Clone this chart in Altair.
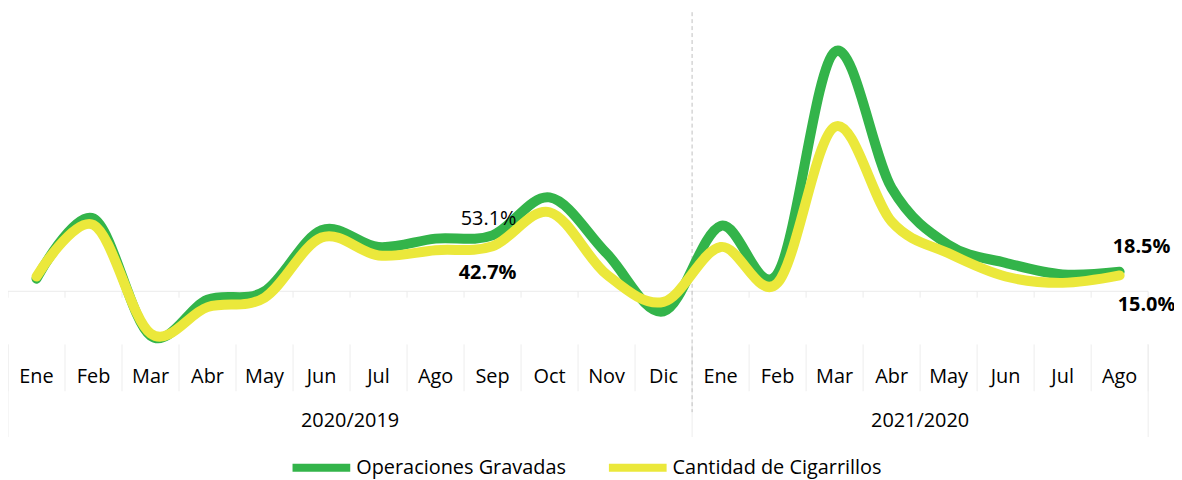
import altair as alt
import pandas as pd

# ---------------- data ----------------
months = ["Ene", "Feb", "Mar", "Abr", "May", "Jun", "Jul", "Ago", "Sep", "Oct", "Nov", "Dic",
          "Ene", "Feb", "Mar", "Abr", "May", "Jun", "Jul", "Ago"]
operaciones = [12, 69, -42, -8, 0, 58, 42, 50, 53.1, 89, 36, -19,
               62, 17, 227, 98, 44, 27, 16, 18.5]
cigarrillos = [14, 63, -40, -15, -6, 51, 34, 39, 42.7, 75, 16, -10,
               42, 8, 156, 66, 36, 14, 8, 15.0]
series_names = ["Operaciones Gravadas", "Cantidad de Cigarrillos"]
series_colors = ["#33b44a", "#ebe83b"]
groups = ["2020/2019", "2021/2020"]
group_start = [0, 12]
group_end = [11, 19]
label_series = ["Operaciones Gravadas", "Cantidad de Cigarrillos",
                "Operaciones Gravadas", "Cantidad de Cigarrillos"]
label_idx = [8, 8, 19, 19]
label_text = ["53.1%", "42.7%", "18.5%", "15.0%"]

FONT = "Open Sans"
n = len(months)

rows = []
for i, m in enumerate(months):
    rows.append({"idx": i, "month": m, "series": series_names[0], "value": operaciones[i]})
    rows.append({"idx": i, "month": m, "series": series_names[1], "value": cigarrillos[i]})
df = pd.DataFrame(rows)
df_month = pd.DataFrame({"idx": list(range(n)), "month": months})
df_bound = pd.DataFrame({"idx": [i - 0.5 for i in range(n + 1)]})
df_group = pd.DataFrame({"group": groups, "s": group_start, "e": group_end})
df_gb = pd.DataFrame({"idx": [group_start[0] - 0.5] + [e + 0.5 for e in group_end]})
df_split = pd.DataFrame({"idx": [group_start[1] - 0.5]})

xs = alt.Scale(domain=[-0.5, n - 0.5], nice=False, zero=False)
ys = alt.Scale(domain=[-175.9, 267.5], nice=False, zero=False)


def X(f="idx"):
    return alt.X(f"{f}:Q", scale=xs, axis=None)


def Y(f="value"):
    return alt.Y(f"{f}:Q", scale=ys, axis=None)


color = alt.Color(
    "series:N",
    scale=alt.Scale(domain=series_names, range=series_colors),
    legend=alt.Legend(
        orient="none", legendX=282, legendY=428, direction="horizontal", title=None,
        symbolType="stroke", symbolStrokeWidth=8, symbolSize=3364,
        labelFont=FONT, labelFontSize=20, labelColor="#000000", labelOffset=2,
        labelLimit=400, columnPadding=26, padding=0,
    ),
)

zero_rule = alt.Chart(df_bound).transform_aggregate(
    lo="min(idx)", hi="max(idx)"
).transform_calculate(z="0").mark_rule(color="#ebebeb", strokeWidth=1).encode(
    x=X("lo"), x2="hi:Q", y=Y("z")
)
small_ticks = alt.Chart(df_bound).transform_calculate(a="0", b="-6").mark_rule(
    color="#ebebeb", strokeWidth=1
).encode(x=X(), y=Y("a"), y2="b:Q")
month_sep = alt.Chart(df_bound).mark_rule(color="#ededed", strokeWidth=1).encode(
    x=X(), y=alt.value(337), y2=alt.value(384)
)
group_sep = alt.Chart(df_gb).mark_rule(color="#ededed", strokeWidth=1).encode(
    x=X(), y=alt.value(337), y2=alt.value(430)
)
split = alt.Chart(df_split).mark_rule(color="#bfbfbf", strokeWidth=1, strokeDash=[4, 3]).encode(
    x=X(), y=alt.value(3), y2=alt.value(405)
)


def line_layer(name):
    return alt.Chart(df).transform_filter(alt.datum.series == name).mark_line(
        interpolate="cardinal", strokeWidth=10, strokeCap="round", strokeJoin="round"
    ).encode(x=X(), y=Y(), color=color)


lines = [line_layer(s) for s in series_names]

label_cfg = [  # (weight, dx, dy)
    ("normal", -4, -10),
    ("bold", -5, 33),
    ("bold", 22, -19),
    ("bold", 27, 36),
]
labels = []
for k in range(len(label_text)):
    vals = operaciones if label_series[k] == series_names[0] else cigarrillos
    d = pd.DataFrame({"idx": [label_idx[k]], "value": [vals[label_idx[k]]], "t": [label_text[k]]})
    w, dx, dy = label_cfg[k]
    labels.append(
        alt.Chart(d).mark_text(font=FONT, fontSize=20, fontWeight=w, color="#000000",
                               baseline="alphabetic", align="center", dx=dx, dy=dy)
        .encode(x=X(), y=Y(), text="t:N")
    )

month_labels = alt.Chart(df_month).mark_text(
    font=FONT, fontSize=20, color="#000000", baseline="alphabetic", align="center"
).encode(x=X(), y=alt.value(376), text="month:N")

group_labels = alt.Chart(df_group).transform_calculate(
    c="(datum.s + datum.e) / 2"
).mark_text(font=FONT, fontSize=20, color="#000000", baseline="alphabetic", align="center").encode(
    x=X("c"), y=alt.value(420), text="group:N"
)

chart = alt.layer(
    zero_rule, small_ticks, month_sep, group_sep, split, *lines, *labels, month_labels, group_labels
).properties(
    width=1146, height=470,
    padding={"left": 0, "top": 0, "right": 26, "bottom": 2},
    autosize=alt.AutoSizeParams(type="none"),
).configure(background="white", view=alt.ViewConfig(stroke=None))

chart.save("out.html", embed_options={"renderer": "svg", "actions": False})
